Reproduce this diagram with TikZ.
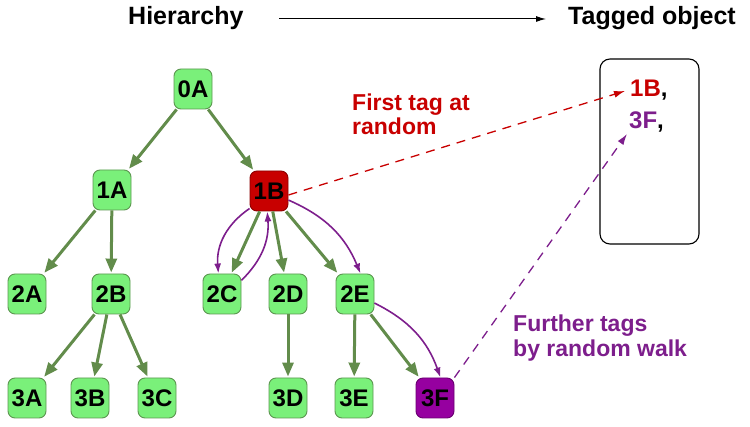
\documentclass[tikz,border=0pt]{standalone}
\usepackage{fontspec}
\setmainfont{Liberation Sans}
\usetikzlibrary{arrows.meta}
\definecolor{nodegreen}{RGB}{122,240,122}
\definecolor{bordergreen}{RGB}{92,150,80}
\definecolor{edgegreen}{RGB}{98,140,75}
\definecolor{tagred}{RGB}{200,0,0}
\definecolor{fillpurple}{RGB}{150,0,160}
\definecolor{tagpurple}{RGB}{125,30,140}
\tikzset{
  hnode/.style={draw=bordergreen, line width=0.9pt, fill=nodegreen, rounded corners=7pt,
    minimum width=38pt, minimum height=40pt, inner sep=0pt,
    font=\fontsize{24}{26}\selectfont\bfseries},
  rednode/.style={hnode, fill=tagred, draw=tagred!70!black},
  purplenode/.style={hnode, fill=fillpurple, draw=fillpurple!70!black},
  tree/.style={draw=edgegreen, line width=3pt, -{Triangle[length=14pt,width=11pt]}, shorten >=1pt},
  walk/.style={draw=tagpurple, line width=1.6pt, -{Latex[length=10pt,width=7pt]}},
  redlink/.style={draw=tagred, line width=1.3pt, dash pattern=on 9pt off 7pt, -{Latex[length=11pt,width=7pt]}},
  purplelink/.style={draw=tagpurple, line width=1.3pt, dash pattern=on 9pt off 7pt, -{Latex[length=11pt,width=7pt]}},
  title/.style={font=\fontsize{25}{28}\selectfont\bfseries, anchor=base west, inner sep=0pt},
  note/.style={font=\fontsize{23}{26}\selectfont\bfseries, anchor=base west, inner sep=0pt},
  tagtext/.style={font=\fontsize{24}{26}\selectfont\bfseries, anchor=base west, inner sep=0pt}
}
\begin{document}
\begin{tikzpicture}[x=1pt,y=-1pt]
\useasboundingbox (0,0) rectangle (750,427);

% titles
\node[title] (hier) at (128,25) {Hierarchy};
\node[title] (tagged) at (568,25) {Tagged object};
\coordinate (ta) at (279,19);
\coordinate (tb) at (546,19);
\draw[line width=1pt, -{Latex[length=10pt,width=6pt]}] (ta) -- (tb);

% tree nodes
\node[hnode] (0A) at (193,89) {0A};
\node[hnode] (1A) at (112,190) {1A};
\node[rednode] (1B) at (269,191) {1B};
\node[hnode] (2A) at (27,294) {2A};
\node[hnode] (2B) at (111,294) {2B};
\node[hnode] (2C) at (222,294) {2C};
\node[hnode] (2D) at (288,294) {2D};
\node[hnode] (2E) at (355,294) {2E};
\node[hnode] (3A) at (27,398) {3A};
\node[hnode] (3B) at (90,398) {3B};
\node[hnode] (3C) at (157,398) {3C};
\node[hnode] (3D) at (288,398) {3D};
\node[hnode] (3E) at (354,398) {3E};
\node[purplenode] (3F) at (435,398) {3F};

% tree edges
\draw[tree] (0A) -- (1A);
\draw[tree] (0A) -- (1B);
\draw[tree] (1A) -- (2A);
\draw[tree] (1A) -- (2B);
\draw[tree] (2B) -- (3A);
\draw[tree] (2B) -- (3B);
\draw[tree] (2B) -- (3C);
\draw[tree] (1B) -- (2C);
\draw[tree] (1B) -- (2D);
\draw[tree] (1B) -- (2E);
\draw[tree] (2D) -- (3D);
\draw[tree] (2E) -- (3E);
\draw[tree] (2E) -- (3F);

% random walk
\draw[walk] (1B.222) to[bend right=30] (2C.100);
\draw[walk] (2C.35) to[bend right=25] (1B.265);
\draw[walk] (1B.-25) to[bend left=22] (2E.75);
\draw[walk] (2E.-25) to[bend left=22] (3F.75);

% tagged object box
\node[draw, line width=1.1pt, rounded corners=10pt, minimum width=99pt, minimum height=185pt, inner sep=0pt] (box) at (649.5,151.5) {};
\node[tagtext, text=tagred] (t1B) at (630,97) {1B\textcolor{black}{,}};
\node[tagtext, text=tagpurple] (t3F) at (629,129) {3F\textcolor{black}{,}};

% links
\coordinate (redtip) at (625,91);
\coordinate (purtip) at (627,134);
\coordinate (redstart) at ([yshift=-4pt]1B.east);
\draw[redlink] (redstart) -- (redtip);
\draw[purplelink] (3F.north east) -- (purtip);

% notes
\node[note, text=tagred] (n1) at (352,111) {First tag at};
\node[note, text=tagred] (n2) at (352,135) {random};
\node[note, text=tagpurple] (n3) at (513,332) {Further tags};
\node[note, text=tagpurple] (n4) at (513,357) {by random walk};
\end{tikzpicture}
\end{document}
